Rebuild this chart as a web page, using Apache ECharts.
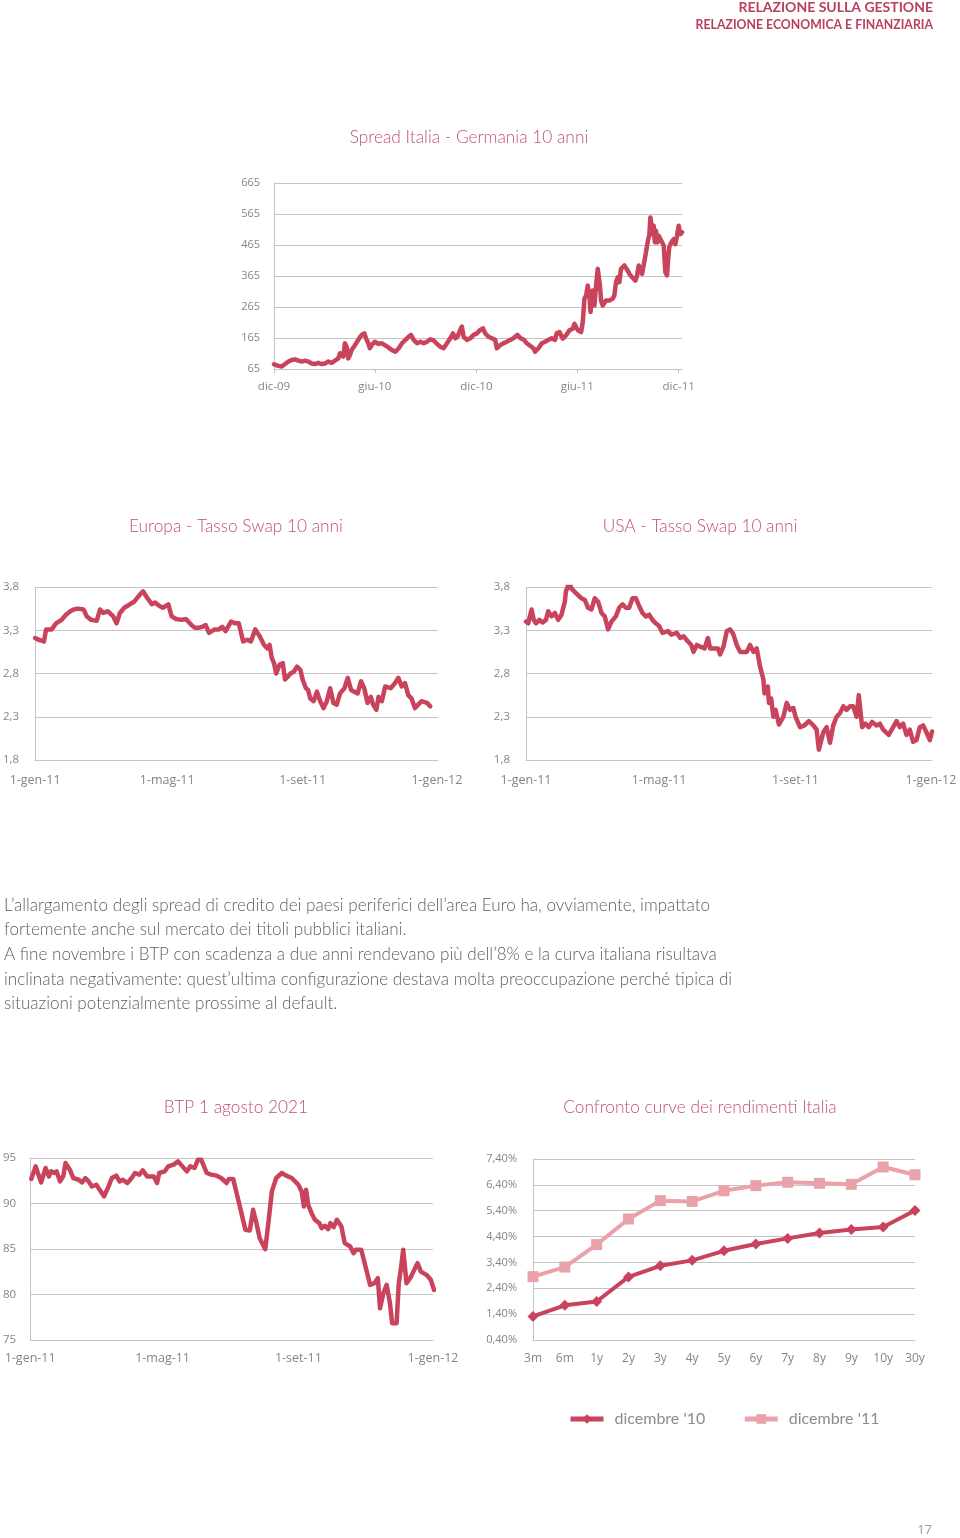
<!DOCTYPE html>
<html><head><meta charset="utf-8">
<script src="https://cdn.jsdelivr.net/npm/echarts@6/dist/echarts.min.js"></script>
<style>html,body{margin:0;padding:0;background:#fff}#c{width:960px;height:1538px}</style>
</head><body><div id="c"></div><script>
// ---------- Spread Italia - Germania 10 anni (days since 1 Dec 2009, bp) ----------
const spreadStart = '2009-12-01';
const spreadTickDates = ['2009-12-01','2010-06-01','2010-12-01','2011-06-01','2011-12-01'];
const spreadTickLabels = ['dic-09','giu-10','dic-10','giu-11','dic-11'];
const spreadYTicks = [65,165,265,365,465,565,665];
const spreadDays = [0,8,14,20,26,32,38,44,50,56,62,68,74,80,86,92,98,104,110,116,119,122,125,128,131,134,137,140,146,152,158,163,166,170,173,176,182,188,194,200,206,213,219,225,231,237,243,247,252,258,264,270,276,282,288,294,300,306,312,318,323,327,331,336,339,342,348,354,360,366,372,377,381,387,393,399,402,405,408,414,420,426,432,439,445,451,456,462,468,471,477,483,489,495,501,507,510,
515,521,527,533,539,542,545,548,551,554,557,560,563,566,569,571,573,575,578,581,584,586,588,590,593,596,599,605,611,614,617,620,623,626,632,635,638,641,644,646,649,652,655,658,661,664,667,670,673,675,677,679,681,683,685,687,689,692,694,697,700,703,706,709,711,713,717,721,724,727,730,733,736];
const spreadValues = [80,75,73,81,89,94,96,92,89,92,89,83,81,85,81,83,89,85,92,99,116,110,105,148,137,99,110,126,142,159,175,180,164,148,132,142,153,146,148,142,135,126,121,132,148,159,169,175,159,148,153,148,153,161,157,146,137,132,148,164,180,164,169,191,202,169,159,164,175,180,191,196,180,169,164,159,132,126,142,148,153,159,164,175,164,159,148,140,132,121,132,148,153,159,164,159,180,
184,163,174,190,195,211,206,190,195,184,216,292,302,334,302,249,292,318,270,334,388,393,334,286,270,275,286,286,292,302,345,361,345,388,399,393,383,372,377,361,356,350,367,399,388,372,377,431,463,484,495,554,549,500,527,474,511,474,495,490,474,463,377,367,420,458,474,484,468,495,527,500,506];

// ---------- 2011 charts (days since 1 Jan 2011) ----------
const yearStart = '2011-01-01';
const yearTickDates = ['2011-01-01','2011-05-01','2011-09-01','2012-01-01'];
const yearTickLabels = ['1-gen-11','1-mag-11','1-set-11','1-gen-12'];

// Europa - Tasso Swap 10 anni (%)
const europaDays = [0,3,6,8,10,15,19,24,28,32,35,39,44,47,51,56,59,62,66,71,74,77,81,86,90,95,98,101,106,109,113,116,121,124,128,133,137,142,145,149,152,155,158,163,167,170,173,178,182,185,189,193,196,200,204,208,211,213,215,217,219,222,225,227,230,232,235,238,241,243,246,248,250,253,256,259,262,265,268,271,274,277,281,284,287,290,293,296,299,302,305,307,310,312,315,318,323,327,330,333,336,339,342,345,348,351,356,359];
const europaValues = [3.21,3.19,3.18,3.17,3.31,3.31,3.38,3.42,3.48,3.52,3.54,3.55,3.54,3.46,3.42,3.41,3.54,3.50,3.52,3.46,3.38,3.50,3.56,3.60,3.63,3.71,3.75,3.69,3.60,3.62,3.58,3.56,3.60,3.46,3.43,3.42,3.43,3.36,3.33,3.33,3.34,3.36,3.27,3.31,3.31,3.34,3.29,3.40,3.38,3.38,3.17,3.19,3.17,3.31,3.23,3.13,3.09,3.13,2.98,2.92,2.80,2.90,2.92,2.73,2.77,2.80,2.82,2.88,2.84,2.73,2.63,2.61,2.51,2.48,2.59,2.48,2.40,2.48,2.63,2.46,2.44,2.57,2.63,2.75,2.61,2.59,2.57,2.71,2.63,2.46,2.53,2.44,2.38,2.53,2.48,2.65,2.63,2.69,2.75,2.65,2.69,2.55,2.51,2.40,2.44,2.48,2.46,2.42];

// USA - Tasso Swap 10 anni (%)
const usaDays = [0,2,5,7,9,12,15,18,20,23,26,29,32,35,36,39,41,45,50,53,56,59,62,65,68,71,74,77,81,84,87,90,93,96,99,102,105,108,111,114,117,120,123,128,131,136,139,142,146,149,151,154,157,161,164,166,170,173,175,178,181,184,187,190,193,196,199,202,205,208,211,214,215,218,219,221,223,225,228,232,235,238,241,243,247,251,255,259,262,264,268,271,274,277,280,283,286,289,292,295,298,300,303,306,309,312,316,319,322,327,331,334,337,340,343,346,349,352,355,358,361,364,366];
const usaValues = [3.40,3.38,3.54,3.42,3.38,3.42,3.39,3.42,3.52,3.46,3.50,3.42,3.48,3.63,3.75,3.85,3.78,3.73,3.67,3.65,3.56,3.54,3.67,3.63,3.50,3.46,3.31,3.40,3.46,3.56,3.60,3.56,3.56,3.67,3.67,3.58,3.50,3.46,3.48,3.42,3.38,3.35,3.27,3.29,3.25,3.27,3.21,3.23,3.17,3.13,3.05,3.13,3.11,3.09,3.21,3.09,3.09,3.09,3.02,3.11,3.29,3.31,3.25,3.13,3.05,3.05,3.05,3.13,3.05,3.09,2.88,2.73,2.57,2.65,2.46,2.51,2.30,2.38,2.21,2.30,2.46,2.38,2.40,2.30,2.18,2.20,2.25,2.20,2.15,1.92,2.12,2.18,2.00,2.20,2.30,2.34,2.42,2.38,2.42,2.42,2.30,2.55,2.18,2.22,2.18,2.24,2.20,2.22,2.15,2.09,2.18,2.25,2.18,2.22,2.09,2.15,2.01,2.03,2.18,2.20,2.12,2.03,2.13];
const swapYTicks = [1.8,2.3,2.8,3.3,3.8];

// BTP 1 agosto 2021 (price)
const btpDays = [1,5,7,10,14,17,19,22,24,27,30,32,36,39,44,47,50,53,56,60,63,67,71,74,78,81,84,88,92,95,99,102,106,109,112,115,117,122,125,130,134,138,142,145,149,152,155,160,164,169,173,178,180,184,187,190,195,199,202,205,208,213,216,219,223,228,232,237,240,243,246,248,250,252,255,258,262,264,267,270,272,275,278,282,285,290,293,295,300,305,308,312,315,317,320,323,326,328,332,334,336,338,341,345,348,351,354,359,363,366];
const btpValues = [92.69,94.08,93.35,92.32,93.90,92.98,93.53,93.35,93.53,92.43,92.98,94.45,93.72,92.80,92.61,92.32,92.80,92.43,91.88,92.06,91.51,90.78,91.88,92.80,93.06,92.43,92.61,92.25,92.80,93.35,93.17,93.64,92.98,92.98,92.98,92.25,93.35,93.53,94.08,94.27,94.63,94.08,93.53,94.08,93.90,94.82,94.82,93.35,93.17,93.06,92.80,92.25,92.69,92.69,91.15,89.68,87.11,87.04,89.31,87.84,86.19,84.98,88.03,91.33,92.80,93.35,93.06,92.80,92.43,92.06,91.33,89.68,91.51,89.83,88.94,88.21,87.84,87.29,87.55,87.18,87.84,87.40,88.21,87.48,85.64,85.28,84.54,84.91,84.91,82.52,81.06,81.24,81.79,78.49,80.14,81.06,79.04,76.83,76.83,81.24,82.89,84.91,81.24,81.94,82.71,83.44,82.52,82.16,81.61,80.50];
const btpYTicks = [75,80,85,90,95];

// Confronto curve dei rendimenti Italia (%)
const maturities = ['3m','6m','1y','2y','3y','4y','5y','6y','7y','8y','9y','10y','30y'];
const curveDic10 = [1.31,1.74,1.89,2.84,3.27,3.48,3.85,4.11,4.33,4.54,4.67,4.77,5.41];
const curveDic11 = [2.85,3.22,4.09,5.08,5.79,5.76,6.17,6.37,6.50,6.46,6.42,7.09,6.79];
const curveYTicks = [0.4,1.4,2.4,3.4,4.4,5.4,6.4,7.4];
const seriesNames = ["dicembre '10", "dicembre '11"];

// ---------- texts ----------
const headerLines = ['RELAZIONE SULLA GESTIONE','RELAZIONE ECONOMICA E FINANZIARIA'];
const titles = ['Spread Italia - Germania 10 anni','Europa - Tasso Swap 10 anni','USA - Tasso Swap 10 anni','BTP 1 agosto 2021','Confronto curve dei rendimenti Italia'];
const paragraph = [
  'L\u2019allargamento degli spread di credito dei paesi periferici dell\u2019area Euro ha, ovviamente, impattato',
  'fortemente anche sul mercato dei titoli pubblici italiani.',
  'A fine novembre i BTP con scadenza a due anni rendevano più dell\u20198% e la curva italiana risultava',
  'inclinata negativamente: quest\u2019ultima configurazione destava molta preoccupazione perché tipica di',
  'situazioni potenzialmente prossime al default.'
];
const pageNumber = '17';

// ---------- helpers ----------
const DAY = 86400000;
const dayOf = (start, d) => Math.round((Date.parse(d) - Date.parse(start)) / DAY);
const zip = (xs, ys) => xs.map((x, i) => [x, ys[i]]);

const RED = '#c8435b';
const PINK = '#e9a2aa';
const GRID = '#c4c4c4';
const LABEL = '#858585';
const TITLE = '#c0526f';
const HUM = 'Lato, "Open Sans", sans-serif';
const SANS = '"Open Sans", "DejaVu Sans", sans-serif';

const spreadTicks = spreadTickDates.map(d => dayOf(spreadStart, d));
const yearTicks = yearTickDates.map(d => dayOf(yearStart, d));

function timeXAxis(gridIndex, ticks, labels, max, margin, fontSize, showTick) {
  return {
    type: 'value', gridIndex, min: 0, max,
    axisLine: { show: true, lineStyle: { color: GRID, width: 1 } },
    axisTick: { show: !!showTick, customValues: ticks, length: 4, lineStyle: { color: GRID } },
    splitLine: { show: false },
    axisLabel: {
      customValues: ticks, margin, color: LABEL, fontFamily: SANS, fontSize,
      showMinLabel: true, showMaxLabel: true, hideOverlap: false,
      formatter: v => { const i = ticks.indexOf(Math.round(v)); return i >= 0 ? labels[i] : ''; }
    }
  };
}
function yAxis(gridIndex, ticks, fmt, margin, fontSize) {
  return {
    type: 'value', gridIndex, min: ticks[0], max: ticks[ticks.length - 1],
    interval: +(ticks[1] - ticks[0]).toFixed(6),
    axisLine: { show: true, lineStyle: { color: GRID, width: 1 } },
    axisTick: { show: false },
    splitLine: { show: true, lineStyle: { color: GRID, width: 1 } },
    axisLabel: { color: LABEL, fontFamily: SANS, fontSize, margin, formatter: fmt }
  };
}
const lineSeries = (name, xi, data) => ({
  type: 'line', name, xAxisIndex: xi, yAxisIndex: xi, data, showSymbol: false,
  symbol: 'none', lineStyle: { color: RED, width: 4.5, join: 'round', cap: 'round' },
  itemStyle: { color: RED }, z: 3
});

const comma = d => v => v.toFixed(d).replace('.', ',');

const titleText = (text, x, y) => ({
  type: 'text', x, y,
  style: { text, fill: TITLE, font: '300 17.3px ' + HUM, textAlign: 'center', textVerticalAlign: 'middle' }
});

const option = {
  animation: false,
  backgroundColor: '#fff',
  grid: [
    { left: 274, top: 183, width: 408, height: 186 },
    { left: 33, top: 587, width: 405, height: 173 },
    { left: 526, top: 587, width: 406, height: 173 },
    { left: 30, top: 1158, width: 403, height: 182 },
    { left: 533, top: 1159, width: 382, height: 181 }
  ],
  xAxis: [
    timeXAxis(0, spreadTicks, spreadTickLabels, 736, 12, 11.5, true),
    timeXAxis(1, yearTicks, yearTickLabels, 366, 14, 12.5),
    timeXAxis(2, yearTicks, yearTickLabels, 366, 14, 12.5),
    timeXAxis(3, yearTicks, yearTickLabels, 365, 12, 12.5),
    {
      type: 'category', gridIndex: 4, data: maturities, boundaryGap: false,
      axisLine: { show: true, lineStyle: { color: GRID } }, axisTick: { show: false },
      axisLabel: { color: LABEL, fontFamily: SANS, fontSize: 12, margin: 13, interval: 0 }
    }
  ],
  yAxis: [
    yAxis(0, spreadYTicks, v => String(Math.round(v)), 14, 11),
    yAxis(1, swapYTicks, comma(1), 16, 11.5),
    yAxis(2, swapYTicks, comma(1), 16, 11.5),
    yAxis(3, btpYTicks, v => String(Math.round(v)), 14, 11.5),
    yAxis(4, curveYTicks, v => v.toFixed(2).replace('.', ',') + '%', 16, 11)
  ],
  legend: {
    left: 568, top: 1411, padding: 0, itemWidth: 33, itemHeight: 12, itemGap: 37,
    data: seriesNames.map(n => ({ name: n, lineStyle: { width: 5 } })),
    textStyle: { color: '#8c8c8c', fontFamily: HUM, fontSize: 16, padding: [0, 0, 0, 6] }
  },
  series: [
    lineSeries('spread', 0, zip(spreadDays, spreadValues)),
    lineSeries('europa', 1, zip(europaDays, europaValues)),
    lineSeries('usa', 2, zip(usaDays, usaValues)),
    lineSeries('btp', 3, zip(btpDays, btpValues)),
    {
      type: 'line', name: seriesNames[0], xAxisIndex: 4, yAxisIndex: 4, data: curveDic10,
      symbol: 'diamond', symbolSize: 11, showSymbol: true,
      lineStyle: { color: RED, width: 4 }, itemStyle: { color: RED }, z: 4
    },
    {
      type: 'line', name: seriesNames[1], xAxisIndex: 4, yAxisIndex: 4, data: curveDic11,
      symbol: 'rect', symbolSize: 11, showSymbol: true,
      lineStyle: { color: PINK, width: 4 }, itemStyle: { color: PINK }, z: 3
    }
  ],
  graphic: [
    { type: 'text', x: 933, y: 7, style: { text: headerLines[0], fill: '#b93f5c', font: 'bold 14px ' + HUM, textAlign: 'right', textVerticalAlign: 'middle' } },
    { type: 'text', x: 933, y: 25, style: { text: headerLines[1], fill: '#b93f5c', font: 'bold 12.3px ' + HUM, textAlign: 'right', textVerticalAlign: 'middle' } },
    titleText(titles[0], 469, 137),
    titleText(titles[1], 236, 526),
    titleText(titles[2], 700, 526),
    titleText(titles[3], 236, 1107),
    titleText(titles[4], 700, 1107),
    { type: 'text', x: 4, y: 893, style: { text: paragraph.join('\n'), fill: '#5e5e5e', font: '300 17.1px ' + HUM, lineHeight: 24.6, textAlign: 'left', textVerticalAlign: 'top' } },
    { type: 'text', x: 932, y: 1530, style: { text: pageNumber, fill: '#9a9a9a', font: '13px ' + SANS, textAlign: 'right', textVerticalAlign: 'middle' } }
  ]
};
const chart = echarts.init(document.getElementById('c'), null, { renderer: 'canvas' });
chart.setOption(option);
</script></body></html>
